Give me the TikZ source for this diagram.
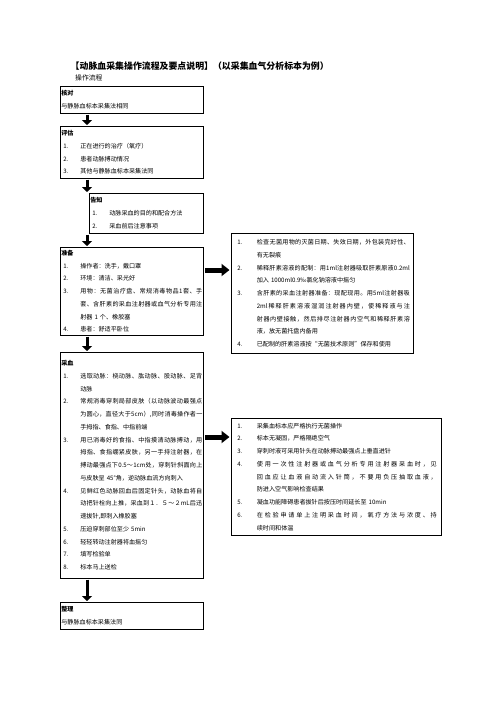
\documentclass[tikz,border=0pt]{standalone}
\usepackage{fontspec}
\setmainfont{Noto Sans CJK SC}
\usetikzlibrary{arrows.meta}
\tikzset{
  stepbox/.style = {draw, line width=0.7pt, anchor=north west, align=left,
    inner xsep=1pt, inner ysep=0pt, font=\fontsize{6.1}{12.75}\selectfont},% box of one step
  leftbox/.style = {stepbox, text width=141pt},% flow column
  downarr/.style = {line width=3pt, -{Triangle[width=10pt,length=5pt]},
    shorten <=1pt, shorten >=1pt},% arrow between steps
  rightarr/.style = {line width=5pt, -{Triangle[width=12pt,length=8pt]},
    shorten <=1.5pt, shorten >=1.5pt}% arrow to the notes
}
\newcommand\numL[1]{\makebox[19pt][l]{\hspace{2pt}#1}}% item number, left column
\newcommand\contL{\hspace*{19pt}}% item continued, left column
\newcommand\numR[1]{\makebox[24.5pt][l]{\hspace{5pt}#1}}% item number, notes
\newcommand\contR{\hspace*{24.5pt}}% item continued, notes
% full line: characters spread over the given width
\def\spreadrest#1{\ifx\relax#1\else\hfil#1\expandafter\spreadrest\fi}
\def\spreadfirst#1{#1\spreadrest}
\newcommand\spread[2]{\makebox[#1][s]{\spreadfirst#2\relax}}

\begin{document}
\begin{tikzpicture}[x=1pt,y=-1pt]
    \useasboundingbox (0,0) rectangle (496,702);
    \coordinate (ax) at (87,0);% column of the down arrows
    \coordinate (ay1) at (0,270);
    \coordinate (ay2) at (0,437);

    \node[anchor=base west, inner sep=0pt, font=\fontsize{8.9}{10}\selectfont\bfseries] (title) at (70.5,69.4)
        {【动脉血采集操作流程及要点说明】（以采集血气分析标本为例）};
    \node[anchor=base west, inner sep=0pt, font=\fontsize{6.8}{10}\selectfont] (subtitle) at (75,80.6) {操作流程};

    % flow column
    \node[leftbox, minimum height=27pt] (hedui) at (60,86) {{\bfseries 核对}\\
        与静脉血标本采集法相同};
    \node[leftbox, minimum height=52pt] (pinggu) at (60,126) {{\bfseries 评估}\\
        \numL{1.}正在进行的治疗（氧疗）\\
        \numL{2.}患者动脉搏动情况\\
        \numL{3.}其他与静脉血标本采集法同};
    \node[leftbox, text width=112pt, minimum height=40pt] (gaozhi) at (89,193) {{\bfseries 告知}\\
        \numL{1.}动脉采血的目的和配合方法\\
        \numL{2.}采血前后注意事项};
    \node[leftbox, minimum height=88pt] (zhunbei) at (60,247) {{\bfseries 准备}\\
        \numL{1.}操作者：洗手，戴口罩\\
        \numL{2.}环境：清洁、采光好\\
        \numL{3.}\spread{122pt}{用物：无菌治疗盘、常规消毒物品1套、手}\\
        \contL\spread{122pt}{套、含肝素的采血注射器或血气分析专用注}\\
        \contL 射器 1 个、橡胶塞\\
        \numL{4.}患者：舒适平卧位};
    \node[leftbox, minimum height=226pt] (caixue) at (60,352) {{\bfseries 采血}\\
        \numL{1.}\spread{122pt}{选取动脉：桡动脉、肱动脉、股动脉、足背}\\
        \contL 动脉\\
        \numL{2.}\spread{122pt}{常规消毒穿刺局部皮肤（以动脉波动最强点}\\
        \contL\spread{122pt}{为圆心，直径大于{5cm}）,同时消毒操作者一}\\
        \contL 手拇指、食指、中指前端\\
        \numL{3.}\spread{122pt}{用已消毒好的食指、中指摸清动脉搏动，用}\\
        \contL\spread{122pt}{拇指、食指绷紧皮肤，另一手持注射器，在}\\
        \contL\spread{122pt}{搏动最强点下{0.5}～{1cm}处，穿刺针斜面向上}\\
        \contL 与皮肤呈 45°角，逆动脉血流方向刺入\\
        \numL{4.}\spread{122pt}{见鲜红色动脉回血后固定针头，动脉血将自}\\
        \contL\spread{122pt}{动把针栓向上推，采血到１．５～２{mL}后迅}\\
        \contL 速拔针,即刺入橡胶塞\\
        \numL{5.}压迫穿刺部位至少 5min\\
        \numL{6.}轻轻转动注射器将血摇匀\\
        \numL{7.}填写检验单\\
        \numL{8.}标本马上送检};
    \node[leftbox, minimum height=27pt] (zhengli) at (60,602) {{\bfseries 整理}\\
        与静脉血标本采集法同};

    % notes
    \node[stepbox, text width=180pt, minimum height=120pt] (yaodian1) at (231,233) {%
        \numR{1.}\spread{153pt}{检查无菌用物的灭菌日期、失效日期，外包装完好性、}\\
        \contR 有无裂痕\\
        \numR{2.}\spread{153pt}{稀释肝素溶液的配制：用{1ml}注射器吸取肝素原液{0.2ml}}\\
        \contR 加入 1000ml0.9‰氯化钠溶液中摇匀\\
        \numR{3.}\spread{153pt}{含肝素的采血注射器准备：现配现用。用{5ml}注射器吸}\\
        \contR\spread{153pt}{{2ml}稀释肝素溶液湿润注射器内壁，使稀释液与注}\\
        \contR\spread{153pt}{射器内壁接触，然后排尽注射器内空气和稀释肝素溶}\\
        \contR 液，放无菌托盘内备用\\
        \numR{4.}已配制的肝素溶液按“无菌技术原则”保存和使用};
    \node[stepbox, text width=208pt, minimum height=117pt] (yaodian2) at (231,418) {%
        \numR{1.}采集血标本应严格执行无菌操作\\
        \numR{2.}标本无凝固，严格隔绝空气\\
        \numR{3.}穿刺时液可采用针头在动脉搏动最强点上垂直进针\\
        \numR{4.}\spread{180pt}{使用一次性注射器或血气分析专用注射器采血时，见}\\
        \contR\spread{180pt}{回血应让血液自动流入针筒，不要用负压抽取血液，}\\
        \contR 防进入空气影响检查结果\\
        \numR{5.}凝血功能障碍患者拔针后按压时间延长至 10min\\
        \numR{6.}\spread{180pt}{在检验申请单上注明采血时间，氧疗方法与浓度、持}\\
        \contR 续时间和体温};

    % arrows
    \draw[downarr] (hedui.south -| ax) -- (pinggu.north -| ax);
    \draw[downarr] (pinggu.south -| ax) -- (gaozhi.north -| ax);
    \draw[downarr] (gaozhi.south -| ax) -- (zhunbei.north -| ax);
    \draw[downarr] (zhunbei.south -| ax) -- (caixue.north -| ax);
    \draw[downarr] (caixue.south -| ax) -- (zhengli.north -| ax);
    \draw[rightarr] (zhunbei.east |- ay1) -- (yaodian1.west |- ay1);
    \draw[rightarr] (caixue.east |- ay2) -- (yaodian2.west |- ay2);
\end{tikzpicture}
\end{document}
